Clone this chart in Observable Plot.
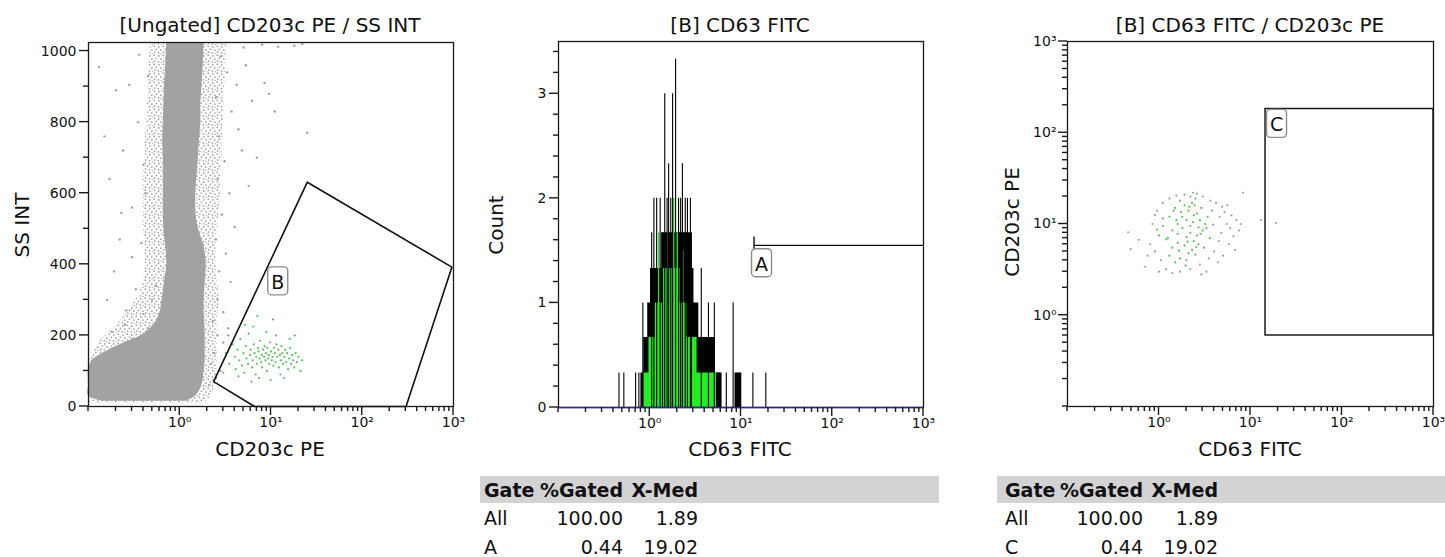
<!DOCTYPE html>
<html><head><meta charset="utf-8">
<script src="https://cdn.jsdelivr.net/npm/d3@7"></script>
<script src="https://cdn.jsdelivr.net/npm/@observablehq/plot@0.6"></script>
<style>
body{margin:0;background:#fff;font-family:"DejaVu Sans",sans-serif;color:#111;}
#wrap{position:relative;width:1445px;height:557px;background:#fff;}
.panel{position:absolute;top:0;}
.lbl{position:absolute;font-size:20px;white-space:nowrap;transform:translate(-50%,-50%);line-height:1;}
.ylbl{position:absolute;font-size:20px;white-space:nowrap;transform:translate(-50%,-50%) rotate(-90deg);line-height:1;}
.bar{position:absolute;background:#d3d3d3;height:27px;top:476px;}
.cell{position:absolute;font-size:19px;white-space:nowrap;line-height:1;transform:translateY(-50%);}
.hd{font-weight:bold;}
</style></head>
<body><div id="wrap"></div>
<script>
// ---------------- DATA ----------------
// Panel 1: [Ungated] CD203c PE / SS INT  (dense population outline, sparse events, gated B events)
const coreY  = [15, 30, 60, 100, 130, 160, 180, 200, 230, 260, 300, 350, 400, 450, 500, 550, 600, 650, 700, 750, 800, 850, 900, 950, 1024];
const coreX1 = [0.14,0.1,0.1,0.1,0.11,0.17,0.25,0.38,0.52,0.60,0.64,0.68,0.72,0.70,0.67,0.66,0.66,0.66,0.66,0.65,0.66,0.67,0.68,0.70,0.72];
const coreX2 = [1.2,1.5,1.75,1.85,1.9,1.9,1.9,1.9,1.88,1.85,1.85,1.9,1.95,1.85,1.6,1.5,1.5,1.55,1.6,1.65,1.7,1.7,1.75,1.8,1.85];
const haloY  = [10, 40, 80, 120, 150, 180, 210, 250, 300, 350, 400, 450, 500, 550, 600, 650, 700, 750, 800, 850, 900, 950, 1024];
const haloX1 = [0.1,0.1,0.1,0.1,0.11,0.13,0.17,0.24,0.33,0.40,0.42,0.42,0.40,0.40,0.40,0.40,0.42,0.42,0.44,0.44,0.46,0.46,0.48];
const haloX2 = [1.9,2.3,2.5,2.6,2.6,2.6,2.6,2.6,2.7,2.6,2.5,2.5,2.6,2.7,2.8,2.8,2.9,2.9,3.0,3.0,3.1,3.2,3.3];
const sparseX = [0.13,0.2,0.24,0.17,0.3,0.22,0.35,0.28,0.4,0.19,0.33,0.26,0.15,0.38,0.45,0.42,0.36,0.23,0.3,0.16,
  2.8,3.3,2.5,4.2,3.7,2.7,3.1,4.8,2.6,3.5,2.9,4.0,2.5,3.2,2.7,3.6,2.6,3.0,5.3,6.2,8.5,9.5,5.7,4.4,7.0,25,11,
  5,12,18,8,22,2.3,2.6,2.4,3.0,2.2,3.4,2.8,2.1,2.5,0.25,0.4,0.5,0.18,0.3,0.55,0.45];
const sparseY = [955,890,720,640,560,470,800,905,680,380,330,270,760,460,930,600,990,545,420,300,
  985,940,870,905,830,760,690,720,640,600,540,505,470,430,380,350,300,265,960,860,910,880,620,780,700,770,830,
  1010,1012,1015,1018,1020,240,200,150,180,120,220,100,60,80,230,260,300,210,190,340,220];
const gateBX = [3.2,3.5,3.8,4.0,4.1,4.3,4.5,4.6,4.8,5.0,5.1,5.3,5.4,5.6,5.7,5.9,6.0,6.2,6.3,6.5,6.6,6.8,6.9,7.0,7.2,7.3,7.5,7.6,7.8,7.9,
  8.0,8.2,8.4,8.5,8.7,8.8,9.0,9.1,9.3,9.5,9.6,9.8,10.0,10.2,10.4,10.6,10.8,11.0,11.2,11.5,11.7,12.0,12.2,12.5,12.8,13.0,13.3,13.6,14.0,14.3,
  14.7,15.0,15.4,15.8,16.2,16.6,17.0,17.5,18.0,18.6,19.2,20.0,21.0,22.0,3.0,3.4,4.4,5.2,6.4,7.4,8.9,9.9,11.3,12.7,16.0,18.2,10.5,7.1,13.8,6.1];
const gateBY = [150,120,175,140,105,160,130,190,115,150,95,170,135,120,205,145,160,110,130,175,150,90,140,120,165,155,135,185,125,145,
  110,160,140,170,130,150,100,165,135,145,120,180,155,130,140,115,165,150,125,175,140,160,110,145,130,170,150,120,140,160,
  125,150,105,135,165,120,145,130,110,150,125,140,100,130,95,200,85,230,225,80,210,75,200,90,190,200,245,255,80,70];
const gateBPolyX = [2.35, 25, 960, 302, 6.6, 2.35];
const gateBPolyY = [70, 631, 392, 0, 0, 70];

// Panel 2: [B] CD63 FITC histogram
const blackStepX = [0.80,0.86,0.95,1.02,1.35,2.40,2.85,3.05,3.45,4.05,5.25,6.2,8.6,10.2];
const blackStepC = [0.33,0.67,1.0,1.33,1.67,1.67,1.33,1.0,0.67,0.67,0.33,0,0.33,0];
const greenStepX = [0.86,0.98,1.15,1.40,2.15,2.55,3.3,4.0,5.4];
const greenStepC = [0.33,0.67,1.0,1.33,1.0,0.67,0.33,0.33,0];
const spikeX = [0.46,0.52,0.70,0.76,0.84,1.05,1.11,1.19,1.30,1.38,1.46,1.55,1.61,1.70,1.78,1.92,2.07,2.18,2.28,2.45,2.59,2.79,2.86,3.67,4.4,5.1,5.5,5.8,6.9,8.2,9.3,13.5,18.7];
const spikeC = [0.33,0.33,0.33,0.33,1.0,1.67,2.0,2.0,2.0,1.67,3.0,2.0,2.33,2.0,3.0,3.33,2.0,2.0,2.33,2.0,2.0,2.0,1.67,1.33,1.0,1.0,0.33,0.33,0.33,1.0,0.33,0.33,0.33];
const greenSpikeX = [1.25,1.58,1.83,2.0,2.3];
const greenSpikeC = [1.67,1.67,2.0,1.67,1.5];
const gateA = {x1: 13.9, x2: 1000, y: 1.55};

// Panel 3: [B] CD63 FITC / CD203c PE
const dotGreenX = [1.3,1.5,1.7,1.9,2.1,2.3,2.5,1.6,1.8,2.0,2.2,2.4,2.6,2.8,1.4,1.6,1.8,2.0,2.2,2.4,2.6,1.2,1.4,1.6,1.9,2.1,2.3,2.7,3.0,3.2,
  1.1,1.3,1.7,2.0,2.5,1.5,3.4,3.6,2.9,1.0,0.9,1.1,2.2,1.9,3.1,2.7,1.75,2.05,1.55,2.35,1.25,2.55,1.45,2.85,1.95,2.15,1.65,3.3,0.95,2.45];
const dotGreenY = [12,15,18,16,14,17,19,10,12,11,9.5,12.5,13,11,8.5,7.8,9,7.2,8,6.5,7.5,6.8,5.5,6.2,5.8,4.8,5.2,6,8.5,10,
  9.5,4.5,4.2,4.0,4.6,3.8,12,7,15,7.5,5,11.5,20,21,5.5,9.2,13.5,6.4,11,10.5,7,5.6,14,7.8,3.5,15.5,5.1,9,8.7,16];
const dotGrayX = [0.46,0.49,0.7,0.8,0.85,0.75,1.0,1.2,1.4,1.7,2.2,2.8,3.5,4.0,4.5,5.0,4.8,5.5,6.0,6.5,7.0,7.5,8.3,13,19,3.8,4.2,4.6,5.2,3.0,
  2.6,1.1,1.3,0.95,0.9,3.9,4.4,5.8,6.8,3.3,1.55,2.35,3.65,4.9,2.9,1.05,0.6,6.2,7.8,5.6];
const dotGrayY = [8.1,5.3,3.4,6,10,4.5,3,3.2,2.9,3,3.2,3.6,4.2,5,6.5,4.5,8,10,9,7.3,11,8.5,22,11,10.3,14,17,12,13.5,20,
  21.5,17,19,14,12.5,9.8,3.8,6,5.2,3,20.5,22,18,15.5,2.8,4,6.7,12.5,10,16];
const gateC = {x1: 14.6, x2: 1000, y1: 0.6, y2: 182};

// Tick labels / titles / stats
const titles = ["[Ungated] CD203c PE / SS INT", "[B] CD63 FITC", "[B] CD63 FITC / CD203c PE"];
const xLabels = ["CD203c PE", "CD63 FITC", "CD63 FITC"];
const yLabels = ["SS INT", "Count", "CD203c PE"];
const logMajor = [1, 10, 100, 1000];
const ssMajor = [0, 200, 400, 600, 800, 1000];
const ssMinor = [100, 300, 500, 700, 900];
const countMajor = [0, 1, 2, 3];
const statHeader = ["Gate", "%Gated", "X-Med"];
const histGate = ["All", "A"], histPct = ["100.00", "0.44"], histMed = ["1.89", "19.02"];
const dotGate = ["All", "C"], dotPct = ["100.00", "0.44"], dotMed = ["1.89", "19.02"];

// ---------------- HELPERS ----------------
const wrap = document.getElementById("wrap");
const GRAY = "#a2a2a2", GREENDOT = "#5cbf5c", HISTGREEN = "#22ee22", INK = "#1a1a1a";
function logTicks(lo, hi) { const t = []; for (let d = lo; d < hi; d *= 10) for (let m = 1; m < 10; m++) t.push(+(d * m).toPrecision(3)); t.push(hi); return t; }
const sup = "⁰¹²³⁴⁵⁶⁷⁸⁹";
const supFmt = d => "10" + sup[Math.round(Math.log10(d))];
const plainFmt = d => String(d);
const minorRange = (lo, hi, step) => d3.range(lo, hi + 1e-9, step).map(v => +v.toFixed(2));
function labelBox(name, xv, yv) {
  return (index, scales) => {
    const x = scales.x(xv), y = scales.y(yv);
    const g = d3.create("svg:g");
    g.append("rect").attr("x", x - 10).attr("y", y - 14).attr("width", 20).attr("height", 28).attr("rx", 4)
      .attr("fill", "#fff").attr("stroke", "#8c8c8c").attr("stroke-width", 1.4);
    g.append("text").attr("x", x).attr("y", y + 1).attr("text-anchor", "middle").attr("dominant-baseline", "central")
      .attr("font-size", 19).attr("font-family", "DejaVu Sans, sans-serif").attr("fill", "#111").text(name);
    return g.node();
  };
}
// outward tick marks: thin filled rectangles placed through the plot's own scales
function tickMarks(axis, values, len, xEdge, yEdge) {
  return (index, scales) => {
    const g = d3.create("svg:g");
    const bottom = scales.y(yEdge), left = scales.x(xEdge);
    values.forEach(v => {
      if (axis === "x") { const x = scales.x(v); g.append("rect").attr("x", x - 0.7).attr("y", bottom).attr("width", 1.4).attr("height", len).attr("fill", INK); }
      else { const y = scales.y(v); g.append("rect").attr("x", left - len).attr("y", y - 0.7).attr("width", len).attr("height", 1.4).attr("fill", INK); }
    });
    return g.node();
  };
}
function place(node, left) { const d = document.createElement("div"); d.className = "panel"; d.style.left = left + "px"; d.appendChild(node); wrap.appendChild(d); }
function addText(cls, text, x, y) { const d = document.createElement("div"); d.className = cls; d.textContent = text; d.style.left = x + "px"; d.style.top = y + "px"; wrap.appendChild(d); }
const baseStyle = {fontFamily: "DejaVu Sans, sans-serif", fontSize: "14px", color: "#111", background: "transparent"};
const logMinorAll = logTicks(0.1, 1000).filter(v => !logMajor.includes(v));

// ---------------- PANEL 1 ----------------
const core = coreY.map((y, i) => ({y, x1: coreX1[i], x2: coreX2[i]}));
const halo = haloY.map((y, i) => ({y, x1: haloX1[i], x2: haloX2[i]}));
const sparse = sparseX.map((x, i) => ({x, y: sparseY[i]}));
const gatedB = gateBX.map((x, i) => ({x, y: gateBY[i]}));
const polyB = gateBPolyX.map((x, i) => ({x, y: gateBPolyY[i]}));
const p1 = Plot.plot({
  width: 480, height: 470, marginLeft: 88, marginRight: 27, marginTop: 42, marginBottom: 64, style: baseStyle,
  x: {type: "log", domain: [0.1, 1000]},
  y: {domain: [0, 1024]},
  marks: [
    Plot.areaX(halo, {y: "y", x1: "x1", x2: "x2", fill: "url(#speck)", curve: "catmull-rom"}),
    Plot.areaX(core, {y: "y", x1: "x1", x2: "x2", fill: GRAY, curve: "catmull-rom"}),
    Plot.dot(sparse, {x: "x", y: "y", r: 1.2, fill: GRAY}),
    Plot.dot(gatedB, {x: "x", y: "y", r: 1.1, fill: GREENDOT}),
    Plot.line(polyB, {x: "x", y: "y", stroke: "#111", strokeWidth: 1.6}),
    labelBox("B", 12, 352),
    Plot.frame({stroke: INK, strokeWidth: 1.3}),
    tickMarks("x", logMinorAll, 5, 0.1, 0), tickMarks("x", logMajor, 9, 0.1, 0),
    tickMarks("y", ssMinor, 5, 0.1, 0), tickMarks("y", ssMajor, 9, 0.1, 0),
    Plot.axisX(logMajor, {tickSize: 0, tickPadding: 11, tickFormat: supFmt, label: null}),
    Plot.axisY(ssMajor, {tickSize: 0, tickPadding: 12, tickFormat: plainFmt, label: null})
  ]
});
const defs = d3.select(p1).insert("defs", ":first-child");
const pat = defs.append("pattern").attr("id", "speck").attr("width", 9).attr("height", 9).attr("patternUnits", "userSpaceOnUse");
[[0.5,0.5],[5,1.2],[2.6,3.5],[7,4.4],[0.9,6.3],[4.6,7.1],[7.6,8.2]].forEach(([a, b]) => pat.append("rect").attr("x", a).attr("y", b).attr("width", 1.6).attr("height", 1.5).attr("fill", GRAY));
place(p1, 0);

// ---------------- PANEL 2 ----------------
const blackSteps = blackStepX.map((x, i) => ({x, c: blackStepC[i]}));
const greenSteps = greenStepX.map((x, i) => ({x, c: greenStepC[i]}));
const spikes = spikeX.map((x, i) => ({x, c: spikeC[i]}));
const gSpikes = greenSpikeX.map((x, i) => ({x, c: greenSpikeC[i]}));
const p2 = Plot.plot({
  width: 465, height: 470, marginLeft: 78, marginRight: 22, marginTop: 41, marginBottom: 63, style: baseStyle,
  x: {type: "log", domain: [0.1, 1000]},
  y: {domain: [0, 3.5]},
  marks: [
    Plot.areaY(blackSteps, {x: "x", y: "c", fill: "#000", curve: "step-after"}),
    Plot.areaY(greenSteps, {x: "x", y: "c", fill: HISTGREEN, curve: "step-after"}),
    Plot.ruleX(gSpikes, {x: "x", y1: 0, y2: "c", stroke: HISTGREEN, strokeWidth: 1.4}),
    Plot.ruleX(spikes, {x: "x", y1: 0, y2: "c", stroke: "#000", strokeWidth: 1.1}),
    Plot.ruleY([gateA], {x1: "x1", x2: "x2", y: "y", stroke: "#111", strokeWidth: 1.4}),
    Plot.ruleX([gateA], {x: "x1", y1: d => d.y - 0.08, y2: d => d.y + 0.08, stroke: "#111", strokeWidth: 1.4}),
    labelBox("A", 17, 1.38),
    Plot.frame({stroke: INK, strokeWidth: 1.3}),
    Plot.ruleY([0], {stroke: "#2b2b80", strokeWidth: 1.6}),
    tickMarks("x", logMinorAll, 5, 0.1, 0), tickMarks("x", logMajor, 9, 0.1, 0),
    tickMarks("y", minorRange(0, 3.4, 0.2).filter(v => !countMajor.includes(v)), 5, 0.1, 0), tickMarks("y", countMajor, 9, 0.1, 0),
    Plot.axisX(logMajor, {tickSize: 0, tickPadding: 11, tickFormat: supFmt, label: null}),
    Plot.axisY(countMajor, {tickSize: 0, tickPadding: 12, tickFormat: plainFmt, label: null})
  ]
});
place(p2, 480);

// ---------------- PANEL 3 ----------------
const gDots = dotGreenX.map((x, i) => ({x, y: dotGreenY[i]}));
const kDots = dotGrayX.map((x, i) => ({x, y: dotGrayY[i]}));
const p3 = Plot.plot({
  width: 485, height: 470, marginLeft: 107, marginRight: 12, marginTop: 41, marginBottom: 64, style: baseStyle,
  x: {type: "log", domain: [0.1, 1000]},
  y: {type: "log", domain: [0.1, 1000]},
  marks: [
    Plot.dot(kDots, {x: "x", y: "y", r: 1.1, fill: GRAY}),
    Plot.dot(gDots, {x: "x", y: "y", r: 1.1, fill: GREENDOT}),
    Plot.rect([gateC], {x1: "x1", x2: "x2", y1: "y1", y2: "y2", fill: "none", stroke: INK, strokeWidth: 1.5}),
    labelBox("C", 19.5, 125),
    Plot.frame({stroke: INK, strokeWidth: 1.3}),
    tickMarks("x", logMinorAll, 5, 0.1, 0.1), tickMarks("x", logMajor, 9, 0.1, 0.1),
    tickMarks("y", logMinorAll, 5, 0.1, 0.1), tickMarks("y", logMajor, 9, 0.1, 0.1),
    Plot.axisX(logMajor, {tickSize: 0, tickPadding: 11, tickFormat: supFmt, label: null}),
    Plot.axisY(logMajor, {tickSize: 0, tickPadding: 11, tickFormat: supFmt, label: null})
  ]
});
place(p3, 960);

// ---------------- TEXT ----------------
[[270, 25], [740, 25], [1250, 25]].forEach(([x, y], i) => addText("lbl", titles[i], x, y));
[[270, 449], [740, 449], [1250, 449]].forEach(([x, y], i) => addText("lbl", xLabels[i], x, y));
[[22, 225], [496, 225], [1012, 222]].forEach(([x, y], i) => addText("ylbl", yLabels[i], x, y));

function table(barLeft, barRight, gx, px, mx, gates, pct, med) {
  const b = document.createElement("div"); b.className = "bar"; b.style.left = barLeft + "px"; b.style.width = (barRight - barLeft) + "px"; wrap.appendChild(b);
  const rows = [[statHeader[0], statHeader[1], statHeader[2], 490, true]].concat(gates.map((g, i) => [g, pct[i], med[i], 518 + i * 29, false]));
  rows.forEach(([g, p, m, y, hd]) => {
    const cls = "cell" + (hd ? " hd" : "");
    const c1 = document.createElement("div"); c1.className = cls; c1.textContent = g; c1.style.left = gx + "px"; c1.style.top = y + "px"; wrap.appendChild(c1);
    const c2 = document.createElement("div"); c2.className = cls; c2.textContent = p; c2.style.right = (1445 - px) + "px"; c2.style.top = y + "px"; wrap.appendChild(c2);
    const c3 = document.createElement("div"); c3.className = cls; c3.textContent = m; c3.style.right = (1445 - mx) + "px"; c3.style.top = y + "px"; wrap.appendChild(c3);
  });
}
table(480, 939, 484, 623, 698, histGate, histPct, histMed);
table(997, 1445, 1005, 1143, 1218, dotGate, dotPct, dotMed);
</script></body></html>
